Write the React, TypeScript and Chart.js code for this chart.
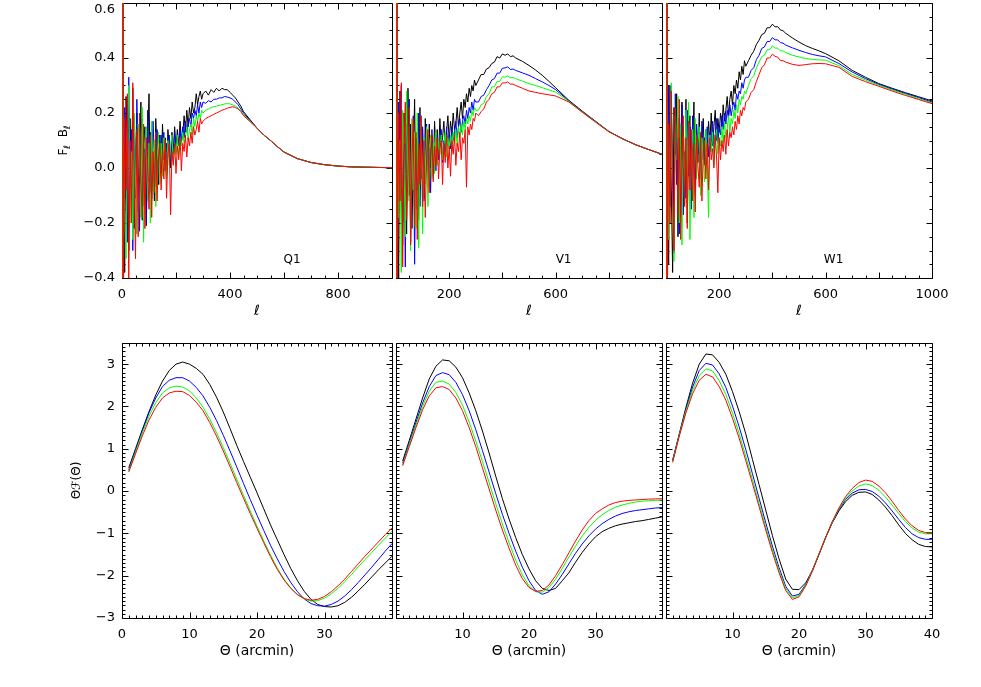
import React, { useEffect, useRef } from 'react';
import { Chart, registerables } from 'chart.js';

Chart.register(...registerables);

const FONT = 'DejaVu Sans';

// ---------- top row: multipole l and F_l B_l (values stored in units of 0.01) ----------
const ELL = [2,3,5,10,15,20,25,30,35,40,45,50,55,60,65,70,75,80,85,90,95,100,105,110,115,120,125,130,135,140,145,150,155,160,165,170,175,180,185,190,195,200,205,210,215,220,225,230,235,240,245,250,255,260,265,270,275,280,285,290,295,300,310,320,330,340,350,360,370,380,390,400,410,420,430,440,450,475,500,525,550,575,600,650,700,750,800,850,900,950,1000];

const Q1_BLACK = [250,-180,10,-38,26,8,-30,18,-12,29,-22,3,20,-16,-4,24,-19,9,15,-21,6,27,-9,14,2,-12,18,6,-6,12,-2,16,3,11,-3,14,8,0,13,5,15,7,14,8,17,10,12,19,13,21,15,22,18,24,20,22,27,23,26,28,25,27,28,26.5,28.5,27.5,29,28,29,28.5,28.5,27.5,26.5,25.5,24,22.5,20.5,17.5,14.5,12,10,7.8,5.8,3.4,2,1.2,0.7,0.4,0.3,0.2,0.1];
const Q1_BLUE = [-200,220,-40,22,5,-27,33,-8,14,-30,19,-11,25,1,-23,12,18,-14,7,-20,21,-5,13,-11,17,3,-7,14,0,-3,12,5,13,-1,9,4,12,2,10,6,13,6,11,8,14,9,15,11,17,13,16,18,15,20,18,21,19,23,20,24,22,24,23.5,24.5,24,25,25,25.5,25.5,26,25.8,25.5,25,24,23,21.5,20,17.2,14.5,12,10,7.8,5.8,3.4,2,1.2,0.7,0.4,0.3,0.2,0.1];
const Q1_GREEN = [280,-150,25,-15,-33,12,30,-20,6,-26,20,-5,-24,16,8,-18,22,-27,4,15,-12,9,-20,17,-8,10,-14,2,13,-6,9,-3,11,3,-4,10,1,8,12,2,9,5,12,4,10,8,13,9,11,15,10,14,16,12,18,15,19,17,20,18,21,20,21,21.5,22,22.3,22.5,22.8,23,23.3,23.4,23.3,23,22.5,21.8,20.8,19.5,17,14.5,12,10,7.8,5.8,3.4,2,1.2,0.7,0.4,0.3,0.2,0.1];
const Q1_RED = [-250,200,-55,18,-8,27,-42,10,-20,31,-3,-33,14,-25,20,-6,-18,16,-22,11,1,-15,12,-18,6,-9,13,-12,4,9,-8,7,-4,10,-11,5,9,-17,6,1,9,-2,8,3,11,-1,9,6,12,4,11,8,13,9,15,12,14,17,13,18,16,17,18,18.5,19,19.5,20,20.5,21,21.3,21.8,22,22.3,22,21.5,20.5,19,16.8,14.5,12,10,7.8,5.8,3.4,2,1.2,0.7,0.4,0.3,0.2,0.1];

const V1_BLACK = [300,-250,12,-40,28,-6,-28,20,7,-24,29,-10,16,-22,3,25,-15,10,-19,22,-4,14,-11,18,4,-7,16,0,12,-3,17,6,14,4,18,8,11,17,7,13,19,10,17,12,20,14,16,22,15,20,24,18,25,22,27,24,29,26,30,28,32,30,32,34,34,36,36.5,38,38.5,40.5,40,41.5,41,41.5,40.5,40.8,40,38.8,37.3,35.6,33.7,31.5,29.2,24.6,20.7,17,13.3,10.7,8.5,6.7,5];
const V1_BLUE = [-280,260,-33,24,-6,30,-20,9,-36,16,-2,25,-27,6,19,-35,11,-8,20,-14,3,15,-12,6,16,-5,10,-9,14,2,8,-1,12,3,9,14,2,10,6,15,8,12,7,15,10,13,17,11,15,18,13,17,19,16,21,18,22,20,24,21,25,24,24,26,26.5,28.5,30,32,32.5,34.5,34.5,36.3,36.4,36.8,35.8,36,35.5,34.6,33.7,32.5,31.3,30,28.5,24.4,20.5,16.9,13.3,10.7,8.5,6.7,5];
const V1_GREEN = [260,-300,26,-18,10,-38,21,2,-25,28,-12,15,-30,18,-8,13,-22,20,-29,5,17,-24,11,-6,15,-14,7,12,-4,9,-2,13,1,10,5,12,3,8,13,4,11,7,12,6,13,9,14,8,15,11,16,12,17,14,18,16,19,17,21,19,22,21,21,23,23.5,26,27,29.5,29.5,31.5,31.5,33.2,33,33.5,32.8,32.9,32.5,31.6,30.7,30,29.2,28.4,27.6,24.2,20.4,16.8,13.2,10.7,8.5,6.7,5];
const V1_RED = [-300,280,-48,20,-12,31,-36,8,24,-19,-2,22,-28,4,18,-21,13,-26,9,-6,19,-14,10,-18,3,14,-9,6,12,-5,8,1,11,-4,7,10,-6,9,2,12,0,8,-3,10,5,12,1,9,6,13,3,11,9,14,-7,15,12,16,14,18,17,20,19,20.5,21.5,24,25,27,27.5,29.5,29.5,31,30.9,31.3,30.5,30.5,30,29,28,27.5,27,26.6,26.2,24,20.3,16.7,13.2,10.7,8.5,6.7,5];

const W1_BLACK = [300,-260,14,-35,30,-8,-38,22,5,27,-25,11,-18,24,1,-13,25,-20,13,19,-9,8,24,-6,15,2,20,-3,11,18,1,14,6,17,9,20,8,15,21,10,18,13,20,15,23,17,21,26,19,25,28,23,30,27,32,29,35,32,37,34,39,37,39,41,42.5,45,46.5,48.5,49,51,51,52.3,51.3,51.4,50.2,49.9,49,47.3,45.8,44.5,43.5,42.6,41.6,39,35.5,33,30.7,29,27.4,25.9,24.4];
const W1_BLUE = [-260,300,-28,30,-14,21,4,-31,27,-6,18,-24,10,23,-17,6,-11,21,-3,15,-15,19,0,-10,16,5,13,-4,17,3,11,8,15,4,13,8,17,6,12,18,9,15,12,19,14,20,16,21,18,23,19,22,24,21,27,25,28,27,31,29,32,33,33,35.5,36.5,39.5,41,43.5,44,46,46,47.4,46.6,46.6,45.6,45.4,44.7,43.7,42.8,42,41.3,40.8,40.4,38,34.9,32.5,30.4,28.7,27.1,25.6,24];
const W1_GREEN = [280,-200,24,-26,8,31,-16,-34,19,3,26,-20,16,-28,12,-7,21,-13,24,-26,6,14,-18,18,-4,9,15,-10,11,4,-5,14,2,-18,12,6,13,1,10,14,5,11,8,15,9,17,11,14,19,13,18,16,21,18,23,20,25,23,26,25,28,27,30,32.5,33.5,36.5,38.5,40.5,41,43,43,44.4,43.6,43.6,42.6,42.6,42,41,40.4,39.8,39.5,39.3,39.2,37.2,34,32,30.1,28.4,26.8,25.2,23.7];
const W1_RED = [-300,250,-52,16,-20,28,-9,-30,22,7,-18,25,-26,2,19,-14,11,-22,17,-8,14,-12,9,-16,12,1,-7,13,-12,6,10,-4,9,-8,11,3,7,0,12,4,-9,11,3,10,6,12,5,14,8,13,11,15,12,17,14,19,16,21,19,22,21,24,25,27.5,28.5,31.5,34,36.5,37.5,40,40,41.4,40.6,40.3,39.1,39,38.5,37.7,37.3,37.6,37.9,38,37.9,36.6,33.3,31.4,29.7,28,26.4,24.9,23.4];

// ---------- bottom row: theta (arcmin) and Theta F(Theta) ----------
const THETA = [1,2,3,4,5,6,7,8,9,10,11,12,13,14,15,16,17,18,19,20,21,22,23,24,25,26,27,28,29,30,31,32,33,34,35,36,37,38,39,40];

const Q1B_BLACK = [0.55,1.0,1.45,1.88,2.27,2.6,2.85,3.0,3.05,3.0,2.9,2.76,2.52,2.22,1.87,1.48,1.08,0.7,0.33,-0.04,-0.42,-0.8,-1.15,-1.5,-1.83,-2.12,-2.37,-2.56,-2.68,-2.73,-2.74,-2.71,-2.63,-2.51,-2.36,-2.2,-2.03,-1.86,-1.7,-1.54];
const Q1B_BLUE = [0.5,0.96,1.42,1.85,2.2,2.47,2.62,2.68,2.68,2.6,2.45,2.25,1.98,1.67,1.32,0.95,0.57,0.18,-0.2,-0.57,-0.93,-1.28,-1.6,-1.9,-2.16,-2.38,-2.55,-2.66,-2.71,-2.72,-2.68,-2.6,-2.48,-2.33,-2.16,-1.98,-1.8,-1.61,-1.42,-1.24];
const Q1B_GREEN = [0.47,0.92,1.37,1.77,2.09,2.32,2.44,2.48,2.46,2.37,2.2,1.98,1.7,1.38,1.03,0.66,0.28,-0.1,-0.47,-0.83,-1.18,-1.51,-1.82,-2.08,-2.29,-2.45,-2.55,-2.6,-2.59,-2.53,-2.43,-2.3,-2.14,-1.97,-1.79,-1.62,-1.45,-1.28,-1.11,-0.95];
const Q1B_RED = [0.45,0.88,1.3,1.68,1.98,2.2,2.32,2.36,2.35,2.26,2.1,1.9,1.62,1.3,0.95,0.58,0.2,-0.17,-0.53,-0.88,-1.22,-1.55,-1.85,-2.1,-2.3,-2.45,-2.54,-2.58,-2.56,-2.49,-2.38,-2.24,-2.08,-1.9,-1.72,-1.54,-1.37,-1.2,-1.03,-0.87];

const V1B_BLACK = [0.71,1.2,1.7,2.2,2.65,2.95,3.1,3.08,2.93,2.68,2.32,1.9,1.42,0.9,0.35,-0.18,-0.66,-1.1,-1.5,-1.84,-2.12,-2.3,-2.35,-2.3,-2.12,-1.93,-1.68,-1.45,-1.25,-1.08,-0.96,-0.88,-0.82,-0.78,-0.75,-0.72,-0.7,-0.67,-0.64,-0.61];
const V1B_BLUE = [0.66,1.14,1.62,2.08,2.47,2.73,2.8,2.75,2.57,2.28,1.9,1.45,0.96,0.45,-0.06,-0.55,-1.0,-1.42,-1.8,-2.12,-2.35,-2.44,-2.38,-2.2,-1.97,-1.72,-1.47,-1.25,-1.06,-0.9,-0.77,-0.67,-0.59,-0.53,-0.49,-0.46,-0.44,-0.42,-0.4,-0.39];
const V1B_GREEN = [0.62,1.1,1.56,2.0,2.36,2.57,2.6,2.53,2.33,2.03,1.63,1.18,0.7,0.2,-0.3,-0.78,-1.22,-1.63,-1.98,-2.24,-2.38,-2.39,-2.28,-2.08,-1.83,-1.56,-1.3,-1.06,-0.86,-0.69,-0.56,-0.46,-0.38,-0.33,-0.29,-0.26,-0.24,-0.23,-0.22,-0.21];
const V1B_RED = [0.6,1.05,1.5,1.92,2.25,2.44,2.47,2.4,2.2,1.9,1.5,1.05,0.55,0.05,-0.45,-0.92,-1.35,-1.75,-2.07,-2.28,-2.37,-2.35,-2.22,-2.0,-1.74,-1.46,-1.18,-0.92,-0.7,-0.53,-0.42,-0.33,-0.27,-0.24,-0.22,-0.21,-0.2,-0.19,-0.185,-0.18];

const W1B_BLACK = [0.73,1.35,1.98,2.55,3.0,3.24,3.22,3.04,2.76,2.35,1.88,1.35,0.75,0.15,-0.45,-1.05,-1.6,-2.08,-2.32,-2.33,-2.17,-1.88,-1.5,-1.1,-0.75,-0.47,-0.25,-0.1,-0.03,-0.02,-0.08,-0.21,-0.38,-0.58,-0.8,-1.0,-1.15,-1.26,-1.31,-1.32];
const W1B_BLUE = [0.72,1.34,1.94,2.46,2.85,3.02,2.98,2.77,2.45,2.01,1.52,0.98,0.41,-0.17,-0.75,-1.3,-1.81,-2.25,-2.48,-2.44,-2.21,-1.87,-1.49,-1.1,-0.74,-0.44,-0.2,-0.05,0.03,0.04,-0.01,-0.12,-0.28,-0.47,-0.67,-0.86,-1.01,-1.1,-1.14,-1.14];
const W1B_GREEN = [0.7,1.32,1.9,2.38,2.73,2.89,2.84,2.61,2.28,1.84,1.36,0.82,0.27,-0.29,-0.85,-1.39,-1.88,-2.3,-2.52,-2.47,-2.23,-1.88,-1.49,-1.1,-0.73,-0.42,-0.17,0.0,0.12,0.17,0.13,0.02,-0.14,-0.33,-0.53,-0.72,-0.87,-0.97,-1.01,-1.01];
const W1B_RED = [0.68,1.3,1.85,2.3,2.62,2.76,2.7,2.47,2.15,1.72,1.25,0.72,0.18,-0.37,-0.92,-1.45,-1.93,-2.35,-2.56,-2.5,-2.25,-1.9,-1.5,-1.1,-0.72,-0.4,-0.13,0.06,0.2,0.26,0.23,0.12,-0.04,-0.24,-0.46,-0.66,-0.82,-0.93,-0.98,-0.98];

// ---------- ticks and labels ----------
const TOP_Y_TICKS = [-0.4, -0.2, 0, 0.2, 0.4, 0.6];
const BOTTOM_Y_TICKS = [-3, -2, -1, 0, 1, 2, 3];
const TOP_X_LABELS = [[0, 400, 800], [200, 600], [200, 600, 1000]];
const BOTTOM_X_LABELS = [[0, 10, 20, 30], [10, 20, 30], [10, 20, 30, 40]];
const BANDS = ['Q1', 'V1', 'W1'];
const COLORS = ['#ff0000', '#00ff00', '#0000ff', '#000000']; // red drawn on top

// ---------- geometry ----------
const COL_LEFT = [122, 392, 662];
const ROW_TOP = [3, 343];
const PW = 270;
const PH = 275;
const PAD_T = 3;
const PAD_B = 48;

const minus = (s: string) => s.replace('-', '\u2212');

const isMult = (v: number, step: number) => Math.abs(v / step - Math.round(v / step)) < 1e-6;

const framePlugin = {
  id: 'idlFrame',
  beforeDatasetsDraw(chart: any, _a: any, o: any) {
    const { ctx, chartArea: a } = chart;
    const sx = chart.scales.x;
    const sy = chart.scales.y;
    const L = Math.round(a.left) + 0.5;
    const R = Math.round(a.right) + 0.5;
    const T = Math.round(a.top) + 0.5;
    const B = Math.round(a.bottom) + 0.5;
    ctx.save();
    ctx.strokeStyle = '#000';
    ctx.lineWidth = 1;
    ctx.beginPath();
    const nx = Math.round((o.xMax - o.xMin) / o.xMinor);
    for (let i = 0; i <= nx; i++) {
      const v = o.xMin + i * o.xMinor;
      const p = Math.round(sx.getPixelForValue(v)) + 0.5;
      const len = isMult(v, o.xMajor) ? o.majLen : o.minLen;
      ctx.moveTo(p, B); ctx.lineTo(p, B - len);
      ctx.moveTo(p, T); ctx.lineTo(p, T + len);
    }
    const ny = Math.round((o.yMax - o.yMin) / o.yMinor);
    for (let j = 0; j <= ny; j++) {
      const v = o.yMin + j * o.yMinor;
      const p = Math.round(sy.getPixelForValue(v)) + 0.5;
      const len = isMult(v, o.yMajor) ? o.majLen : o.minLen;
      ctx.moveTo(L, p); ctx.lineTo(L + len, p);
      ctx.moveTo(R, p); ctx.lineTo(R - len, p);
    }
    ctx.rect(L, T, R - L, B - T);
    ctx.stroke();
    ctx.restore();
  },
  afterDraw(chart: any, _a: any, o: any) {
    const { ctx, chartArea: a } = chart;
    const sx = chart.scales.x;
    const sy = chart.scales.y;
    ctx.save();
    ctx.fillStyle = '#000';
    if (o.band) {
      ctx.font = `12px "${FONT}"`;
      ctx.textAlign = 'center';
      ctx.textBaseline = 'middle';
      ctx.fillText(o.band, sx.getPixelForValue(o.bandX), sy.getPixelForValue(o.bandY));
    }
    if (o.topTick) {
      // the highest tick label sits just inside the top edge of the figure
      ctx.font = `13px "${FONT}"`;
      ctx.textAlign = 'right';
      ctx.textBaseline = 'middle';
      ctx.fillText(o.topTick, a.left - 7, a.top + 7);
    }
    if (o.yTitle) {
      const cx = a.left - o.yTitleOffset;
      const cy = (a.top + a.bottom) / 2;
      ctx.translate(cx, cy);
      ctx.rotate(-Math.PI / 2);
      ctx.textAlign = 'left';
      ctx.textBaseline = 'middle';
      const mainF = `12px "${FONT}"`;
      const subF = `9px "${FONT}"`;
      let w = 0;
      for (const part of o.yTitle) {
        ctx.font = part.sub ? subF : mainF;
        w += ctx.measureText(part.t).width;
      }
      let x = -w / 2;
      for (const part of o.yTitle) {
        ctx.font = part.sub ? subF : mainF;
        ctx.fillText(part.t, x, part.sub ? 3.5 : 0);
        x += ctx.measureText(part.t).width;
      }
    }
    ctx.restore();
  },
};

type PanelCfg = {
  row: number;
  col: number;
  xs: number[];
  series: number[][];
  k: number;
};

const PANELS: PanelCfg[] = [
  { row: 0, col: 0, xs: ELL, series: [Q1_RED, Q1_GREEN, Q1_BLUE, Q1_BLACK], k: 0.01 },
  { row: 0, col: 1, xs: ELL, series: [V1_RED, V1_GREEN, V1_BLUE, V1_BLACK], k: 0.01 },
  { row: 0, col: 2, xs: ELL, series: [W1_RED, W1_GREEN, W1_BLUE, W1_BLACK], k: 0.01 },
  { row: 1, col: 0, xs: THETA, series: [Q1B_RED, Q1B_GREEN, Q1B_BLUE, Q1B_BLACK], k: 1 },
  { row: 1, col: 1, xs: THETA, series: [V1B_RED, V1B_GREEN, V1B_BLUE, V1B_BLACK], k: 1 },
  { row: 1, col: 2, xs: THETA, series: [W1B_RED, W1B_GREEN, W1B_BLUE, W1B_BLACK], k: 1 },
];

function Panel({ cfg }: { cfg: PanelCfg }) {
  const ref = useRef<HTMLCanvasElement>(null);
  const top = cfg.row === 0;
  const padL = cfg.col === 0 ? 75 : 4;
  const padR = cfg.col === 2 ? 24 : 4;
  const width = padL + PW + padR;
  const height = PAD_T + PH + PAD_B;
  const left = COL_LEFT[cfg.col] - padL;
  const topPx = ROW_TOP[cfg.row] - PAD_T;

  useEffect(() => {
    if (!ref.current) return;
    const xMin = 0;
    const xMax = top ? 1000 : 40;
    const yMin = top ? -0.4 : -3;
    const yMax = top ? 0.6 : 3.5;
    const xLabels = top ? TOP_X_LABELS[cfg.col] : BOTTOM_X_LABELS[cfg.col];
    const yTicks = top ? TOP_Y_TICKS : BOTTOM_Y_TICKS;
    const datasets = cfg.series.map((ys, i) => ({
      data: cfg.xs.map((x, j) => ({ x, y: ys[j] * cfg.k })),
      borderColor: COLORS[i],
      backgroundColor: COLORS[i],
      borderWidth: 1,
      pointRadius: 0,
      tension: 0,
      fill: false,
    }));
    const topTickVal = yTicks[yTicks.length - 1];
    const clipTop = top && cfg.col === 0;
    const chart = new Chart(ref.current, {
      type: 'line',
      data: { datasets },
      options: {
        animation: false,
        responsive: false,
        devicePixelRatio: 1,
        events: [],
        layout: { padding: { left: cfg.col === 0 ? 0 : padL, right: padR, top: PAD_T, bottom: 0 } },
        plugins: {
          legend: { display: false },
          tooltip: { enabled: false },
          idlFrame: {
            xMin, xMax, yMin, yMax,
            xMinor: top ? 50 : 1,
            xMajor: top ? 200 : 10,
            yMinor: top ? 0.05 : 0.1,
            yMajor: top ? 0.2 : 1,
            majLen: 6,
            minLen: 3,
            band: top ? BANDS[cfg.col] : null,
            bandX: 630,
            bandY: -0.335,
            topTick: clipTop ? topTickVal.toFixed(1) : null,
            yTitle: cfg.col === 0
              ? (top
                ? [{ t: 'F' }, { t: '\u2113', sub: true }, { t: '  B' }, { t: '\u2113', sub: true }]
                : [{ t: '\u0398\u2131(\u0398)' }])
              : null,
            yTitleOffset: top ? 58 : 45,
          },
        } as any,
        scales: {
          x: {
            type: 'linear',
            position: 'bottom',
            min: xMin,
            max: xMax,
            grid: { display: false, drawTicks: false },
            border: { display: false },
            ticks: {
              autoSkip: false,
              maxRotation: 0,
              minRotation: 0,
              padding: 9,
              color: '#000',
              font: { family: FONT, size: 13 },
              callback: (v: any) => minus(String(v)),
            },
            afterBuildTicks: (s: any) => {
              s.ticks = xLabels.map((v) => ({ value: v }));
            },
            afterFit: (s: any) => {
              s.height = PAD_B;
              s.paddingLeft = 0;
              s.paddingRight = 0;
            },
            title: {
              display: true,
              text: top ? '\u2113' : '\u0398 (arcmin)',
              color: '#000',
              font: { family: FONT, size: 14 },
              padding: { top: 0, bottom: 6.6 },
            },
          },
          y: {
            type: 'linear',
            display: cfg.col === 0,
            min: yMin,
            max: yMax,
            grid: { display: false, drawTicks: false },
            border: { display: false },
            ticks: {
              padding: 7,
              color: '#000',
              font: { family: FONT, size: 13 },
              callback: (v: any) => {
                if (clipTop && Math.abs(Number(v) - topTickVal) < 1e-9) return '';
                return minus(top ? Number(v).toFixed(1) : String(Math.round(Number(v))));
              },
            },
            afterBuildTicks: (s: any) => {
              s.ticks = yTicks.map((v) => ({ value: v }));
            },
            afterFit: (s: any) => {
              s.width = padL;
              s.paddingTop = 0;
              s.paddingBottom = 0;
            },
          },
        },
      } as any,
      plugins: [framePlugin as any],
    });
    return () => chart.destroy();
  }, []);

  return (
    <canvas
      ref={ref}
      width={width}
      height={height}
      style={{ position: 'absolute', left, top: topPx, width, height }}
    />
  );
}

export default function App() {
  return (
    <div style={{ position: 'absolute', left: 0, top: 0, width: 981, height: 687, background: '#fff', overflow: 'hidden' }}>
      {PANELS.map((p, i) => (
        <Panel key={i} cfg={p} />
      ))}
    </div>
  );
}
